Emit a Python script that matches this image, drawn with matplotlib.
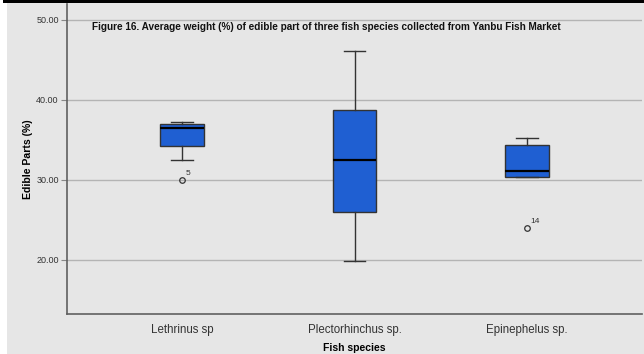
import matplotlib
matplotlib.use('Agg')
import matplotlib.pyplot as plt
from matplotlib.patches import Rectangle

# Edible part (%) per species: five-number summaries plus outliers
species = ['Lethrinus sp', 'Plectorhinchus sp.', 'Epinephelus sp.']
whislo = [32.45, 19.8, 30.3]
q1 = [34.2, 25.95, 30.3]
med = [36.45, 32.4, 31.05]
q3 = [36.95, 38.7, 34.3]
whishi = [37.2, 46.05, 35.2]
fliers = [[30.0], [], [24.0]]
flier_ids = [['5'], [], ['14']]

title = 'Figure 16. Average weight (%) of edible part of three fish species collected from Yanbu Fish Market'

bg = '#e6e6e6'
box_col = '#1f5fd2'
dark = '#333333'

narrow = ['Liberation Sans Narrow', 'Liberation Sans', 'DejaVu Sans']
plain = ['Liberation Sans', 'DejaVu Sans']

fig = plt.figure(figsize=(6.44, 3.54), dpi=100)
fig.patch.set_facecolor(bg)
W, H = 644, 354
# white strip down the left edge and black rule across the top
fig.patches.append(Rectangle((0, 0), 7 / W, 1, transform=fig.transFigure,
                             facecolor='white', edgecolor='none', zorder=0))
fig.patches.append(Rectangle((3 / W, 1 - 3.3 / H), 1, 3.3 / H, transform=fig.transFigure,
                             facecolor='black', edgecolor='none', zorder=0))

ax = fig.add_axes([67 / W, 1 - 314 / H, 575 / W, 310 / H])
ax.set_facecolor(bg)

stats = []
for i in range(len(species)):
    stats.append(dict(whislo=whislo[i], q1=q1[i], med=med[i], q3=q3[i],
                      whishi=whishi[i], fliers=fliers[i]))

pos = [1, 2, 3]
ax.bxp(stats, positions=pos, widths=0.25, capwidths=0.125, patch_artist=True,
       boxprops=dict(facecolor=box_col, edgecolor=dark, linewidth=1.0),
       medianprops=dict(color='black', linewidth=1.6),
       whiskerprops=dict(color=dark, linewidth=1.0),
       capprops=dict(color=dark, linewidth=1.0),
       flierprops=dict(marker='o', markersize=4, markerfacecolor='none',
                       markeredgecolor=dark, markeredgewidth=0.9),
       zorder=3)

for i in range(len(species)):
    for v, lab in zip(fliers[i], flier_ids[i]):
        ax.annotate(lab, (pos[i], v), xytext=(2.5, 1.5), textcoords='offset points',
                    ha='left', va='bottom', fontsize=6, color=dark, family=plain)

ax.set_xlim(1 / 3, 11 / 3)
ax.set_ylim(13.19, 51.94)
ax.set_yticks([20, 30, 40, 50])
ax.set_yticklabels(['%.2f' % v for v in [20, 30, 40, 50]], family=narrow,
                   fontsize=6.5, color=dark)
ax.set_xticks(pos)
ax.set_xticklabels(species, family=plain, fontsize=8.3, color=dark)
ax.tick_params(axis='x', length=0, pad=7)
ax.tick_params(axis='y', length=4, width=0.8, color='#888888', pad=2)
ax.yaxis.grid(True, color='#b4b4b4', linewidth=1.0)
ax.set_axisbelow(True)

for s in ['top', 'right']:
    ax.spines[s].set_visible(False)
for s in ['left', 'bottom']:
    ax.spines[s].set_color('#606060')
    ax.spines[s].set_linewidth(1.2)

ax.set_ylabel('Edible Parts (%)', family=plain, fontsize=7.6, fontweight='bold',
              labelpad=2)
ax.set_xlabel('Fish species', family=plain, fontsize=7.5, fontweight='bold',
              labelpad=5)

fig.text(92 / W, 1 - 27 / H, title, family=narrow, fontsize=7.2,
         fontweight='bold', va='center', ha='left', color='#111111')

fig.savefig('out.png', dpi=100, facecolor=fig.get_facecolor())
